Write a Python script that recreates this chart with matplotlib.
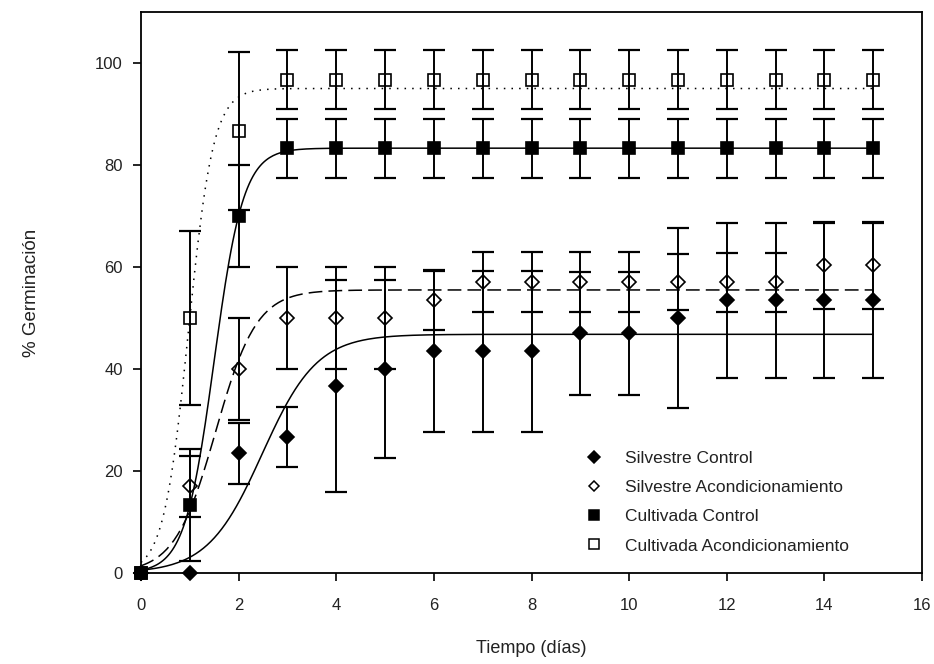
# Germination curves: wild vs cultivated seed, control vs conditioning
import numpy as np
import matplotlib
matplotlib.use('Agg')
import matplotlib.pyplot as plt
from matplotlib.lines import Line2D

plt.rcParams['font.family'] = ['Liberation Sans', 'DejaVu Sans']
txt = '#222222'

dias = [0, 1, 2, 3, 4, 5, 6, 7, 8, 9, 10, 11, 12, 13, 14, 15]

silv_control = [0, 0, 23.5, 26.7, 36.7, 40, 43.5, 43.5, 43.5, 47, 47, 50, 53.5, 53.5, 53.5, 53.5]
silv_control_err = [0, 0, 6, 5.9, 20.8, 17.5, 15.8, 15.8, 15.8, 12, 12, 17.6, 15.2, 15.2, 15.2, 15.2]

silv_acond = [0, 17, 40, 50, 50, 50, 53.5, 57, 57, 57, 57, 57, 57, 57, 60.3, 60.3]
silv_acond_err = [0, 6, 10, 10, 10, 10, 5.9, 5.9, 5.9, 5.9, 5.9, 5.5, 5.8, 5.8, 8.5, 8.5]

cult_control = [0, 13.3, 70, 83.3, 83.3, 83.3, 83.3, 83.3, 83.3, 83.3, 83.3, 83.3, 83.3, 83.3, 83.3, 83.3]
cult_control_err = [0, 11, 10, 5.8, 5.8, 5.8, 5.8, 5.8, 5.8, 5.8, 5.8, 5.8, 5.8, 5.8, 5.8, 5.8]

cult_acond = [0, 50, 86.7, 96.7, 96.7, 96.7, 96.7, 96.7, 96.7, 96.7, 96.7, 96.7, 96.7, 96.7, 96.7, 96.7]
cult_acond_err = [0, 17, 15.5, 5.8, 5.8, 5.8, 5.8, 5.8, 5.8, 5.8, 5.8, 5.8, 5.8, 5.8, 5.8, 5.8]

etiquetas = ['Silvestre Control', 'Silvestre Acondicionamiento',
             'Cultivada Control', 'Cultivada Acondicionamiento']

# sigmoid fit parameters: a / (1 + exp(-(x - x0) / b))
fit_a = [46.8, 55.5, 83.3, 95.0]
fit_x0 = [2.485, 1.53, 1.5, 0.972]
fit_b = [0.56, 0.42, 0.30, 0.256]
fit_ls = ['-', (0, (9, 4)), '-', (0, (1, 4))]

series = [(silv_control, silv_control_err, 'D', 'k', 7.5),
          (silv_acond, silv_acond_err, 'D', 'none', 7),
          (cult_control, cult_control_err, 's', 'k', 9),
          (cult_acond, cult_acond_err, 's', 'none', 9)]

fig = plt.figure(figsize=(9.34, 6.64), dpi=100)
ax = fig.add_axes([141/934, 91/664, 781/934, 561/664])

x = np.array(dias, dtype=float)
xs = np.linspace(0, 15, 400)
for i, (y, e, m, fc, ms) in enumerate(series):
    y = np.array(y)
    e = np.array(e)
    ys = fit_a[i] / (1 + np.exp(-(xs - fit_x0[i]) / fit_b[i]))
    ax.plot(xs, ys, color='k', lw=1.1, ls=fit_ls[i], zorder=2)
    k = e > 0
    ax.errorbar(x[k], y[k], yerr=e[k], fmt='none', ecolor='k',
                elinewidth=1.4, capsize=8, capthick=1.6, zorder=3)
    ax.plot(x, y, ls='none', marker=m, markersize=ms, markerfacecolor=fc,
            markeredgecolor='k', markeredgewidth=1.2, zorder=4, clip_on=False)

ax.set_xlim(0, 16)
ax.set_ylim(0, 110)
ax.set_xticks(range(0, 17, 2))
ax.set_yticks(range(0, 101, 20))
for s in ax.spines.values():
    s.set_linewidth(1.3)
ax.tick_params(direction='out', length=6, width=1.2, labelsize=12,
               labelcolor=txt)
ax.tick_params(axis='x', pad=12)
ax.tick_params(axis='y', pad=7)

ax.set_xlabel('Tiempo (días)', fontsize=13, color=txt)
ax.set_ylabel('% Germinación', fontsize=13.5, color=txt)
ax.xaxis.set_label_coords(0.5, -0.12)
ax.yaxis.set_label_coords(-0.129, 0.5)

handles = [Line2D([], [], ls='none', marker=m, markersize=ms * 0.75,
                  markerfacecolor=fc, markeredgecolor='k', markeredgewidth=1.1)
           for (_, _, m, fc, ms) in series]
leg = ax.legend(handles, etiquetas, loc='upper left',
                bbox_to_anchor=(0.569, 0.217), frameon=False, fontsize=12.5,
                handlelength=1.0, handletextpad=1.3, labelspacing=0.8,
                borderpad=0, borderaxespad=0)
for t in leg.get_texts():
    t.set_color(txt)

fig.savefig('out.png', dpi=100)
